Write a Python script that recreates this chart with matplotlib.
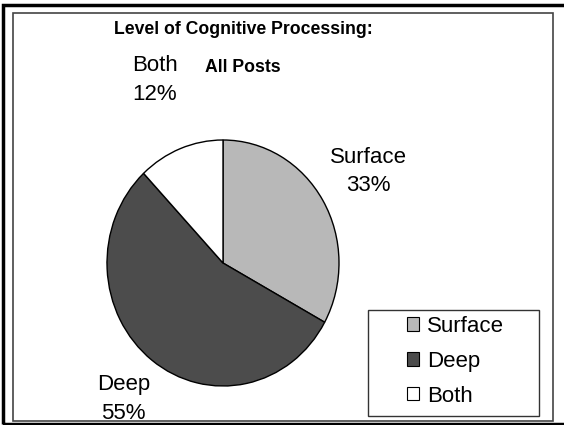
import matplotlib
matplotlib.use("Agg")
import matplotlib.pyplot as plt
from matplotlib.patches import Rectangle, Patch
import numpy as np

# Data
categories = ["Surface", "Deep", "Both"]
percentages = [33, 55, 12]
colors = ["#b8b8b8", "#4c4c4c", "#ffffff"]
title_lines = ["Level of Cognitive Processing:", "All Posts"]

W, H = 564, 425
fig = plt.figure(figsize=(W / 100, H / 100), dpi=100)
plt.rcParams['font.family'] = ['Liberation Sans', 'DejaVu Sans']

# pie centre / radii in pixels (from top-left)
cx, cy, rx, ry = 223, 263, 116, 123
ax = fig.add_axes([0, 0, 1, 1])
wedges, _ = ax.pie(percentages, colors=colors, startangle=90, counterclock=False,
                   wedgeprops=dict(edgecolor="black", linewidth=1.0))
ax.set_aspect('auto')
ax.set_xlim(-cx / rx, (W - cx) / rx)
ax.set_ylim(-(H - cy) / ry, cy / ry)
ax.axis('off')

# slice labels placed along each wedge's mid angle
label_dist = [1.46, 1.40, 1.60]
for w, cat, pct, d in zip(wedges, categories, percentages, label_dist):
    ang = np.deg2rad((w.theta1 + w.theta2) / 2)
    ax.text(d * np.cos(ang), d * np.sin(ang), f"{cat}\n{pct}%", ha="center", va="center",
            fontsize=16, linespacing=1.45)

# title, one text per line
for line, y_px in zip(title_lines, [30, 67]):
    fig.text(243 / W, 1 - y_px / H, line, ha="center", va="center", fontsize=12.7,
             fontweight="bold")

# frames
fig.patches.append(Rectangle((13 / W, 1 - 421 / H), 540 / W, 408 / H, transform=fig.transFigure,
                             fill=False, edgecolor="#444444", linewidth=1.2))
fig.patches.append(Rectangle((3 / W, 1 - 424 / H), 570 / W, 419 / H, transform=fig.transFigure,
                             fill=False, edgecolor="black", linewidth=2.5))

# legend
fig.patches.append(Rectangle((368 / W, 1 - 416 / H), 171 / W, 106 / H, transform=fig.transFigure,
                             fill=True, facecolor="white", edgecolor="#333333", linewidth=1.0))
handles = [Patch(facecolor=c, edgecolor="black", linewidth=0.8) for c in colors]
fig.legend(handles, categories, loc="upper left", bbox_to_anchor=(407 / W, 1 - 316 / H),
           frameon=False, fontsize=16, handlelength=0.55, handleheight=0.55,
           handletextpad=0.35, labelspacing=0.62, borderpad=0, borderaxespad=0)

fig.savefig("out.png", dpi=100)
